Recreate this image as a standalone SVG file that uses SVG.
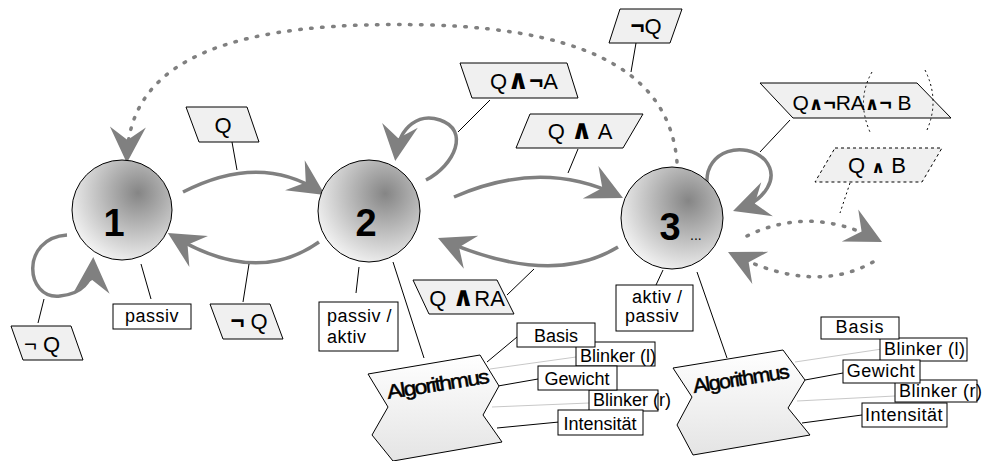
<svg xmlns="http://www.w3.org/2000/svg" width="984" height="461" viewBox="0 0 984 461">
<style>
text{font-family:"Liberation Sans",Arial,sans-serif;fill:#000}
.lbl{font-size:22px;text-anchor:middle}
.sm{font-size:18px}
.mid{text-anchor:middle}
.num{font-size:38px;font-weight:bold;text-anchor:middle}
.sym{font-family:"DejaVu Sans",sans-serif;font-weight:bold;font-size:27px}
.neg{font-weight:bold;font-size:24px}
.para{fill:#f0f0f0;stroke:#000;stroke-width:1}
.box{fill:#fff;stroke:#000;stroke-width:1}
.circ{fill:url(#ball);stroke:#000;stroke-width:1}
.alg{fill:url(#algf);stroke:#000;stroke-width:1}
.algt{font-size:20px;letter-spacing:-1.5px;stroke:#000;stroke-width:0.5}
.arr{fill:none;stroke:#808080;stroke-width:3.5;marker-end:url(#ah)}
.dot{fill:none;stroke:#808080;stroke-width:3.5;stroke-dasharray:1.5 9.5;stroke-linecap:round;marker-end:url(#ah)}
.ln{stroke:#000;stroke-width:1;fill:none}
.lg{stroke:#c8c8c8;stroke-width:1;fill:none}
.thd{stroke:#000;stroke-width:1;fill:none;stroke-dasharray:2 3}
</style>
<defs>
<radialGradient id="ball" cx="0.66" cy="0.33" r="0.8" fx="0.66" fy="0.33">
<stop offset="0" stop-color="#858585"/>
<stop offset="1" stop-color="#fdfdfd"/>
</radialGradient>
<linearGradient id="algf" x1="0" y1="0" x2="0" y2="1">
<stop offset="0" stop-color="#fff"/>
<stop offset="1" stop-color="#e4e4e4"/>
</linearGradient>
<marker id="ah" markerUnits="userSpaceOnUse" markerWidth="44" markerHeight="44" viewBox="-32 -22 44 44" refX="0" refY="0" orient="auto" overflow="visible">
<path d="M6,0 L-30,-18 L-17,0 L-30,18 Z" fill="#808080"/>
</marker>
</defs>

<g id="connectors">
<path class="arr" d="M183,192 Q260,152.5 320,191.7"/>
<path class="arr" d="M319,242 Q256.5,286.5 173,236"/>
<path class="arr" d="M454,197 Q541.5,158.5 617.6,195.4"/>
<path class="arr" d="M618,247 Q552,287.5 443.5,240.4"/>
<path class="arr" d="M67,235 C20,238 25,300 60,296 C80,294 92,285 93,263"/>
<path class="arr" d="M426,180 C455,165 470,130 440,120 C420,113 400,125 396,155"/>
<path class="arr" d="M707,183 C705,150 745,140 765,160 C780,178 765,200 738.7,209"/>
<path class="dot" d="M677,162 C670,80 600,30 430,25 C240,20 130,55 127,157"/>
<path class="dot" d="M747,236 Q810,205 876.7,239.3"/>
<path class="dot" d="M873,262 Q815,295 733.4,254.7"/>
<line class="ln" x1="232" y1="142" x2="237" y2="170"/>
<line class="ln" x1="636" y1="43" x2="631" y2="72"/>
<line class="ln" x1="490" y1="100" x2="458" y2="132"/>
<line class="ln" x1="578" y1="149" x2="568" y2="173"/>
<line class="ln" x1="790" y1="120" x2="760" y2="152"/>
<line class="thd" x1="850" y1="183" x2="840" y2="213"/>
<line class="ln" x1="38" y1="323" x2="44" y2="299"/>
<line class="ln" x1="151" y1="299" x2="141" y2="264"/>
<line class="ln" x1="243" y1="302" x2="249" y2="264"/>
<line class="ln" x1="356" y1="293" x2="359" y2="267"/>
<line class="ln" x1="393" y1="262" x2="424" y2="358"/>
<line class="ln" x1="507" y1="295" x2="534" y2="269"/>
<line class="ln" x1="656" y1="285" x2="663" y2="270"/>
<line class="ln" x1="697" y1="272" x2="727" y2="358"/>
<line class="ln" x1="487" y1="362" x2="517" y2="337"/>
<line class="lg" x1="490" y1="369" x2="576" y2="357"/>
<line class="ln" x1="498" y1="386" x2="538" y2="379"/>
<line class="lg" x1="492" y1="407" x2="589" y2="403"/>
<line class="ln" x1="497" y1="428" x2="559" y2="422"/>
<line class="lg" x1="795" y1="362" x2="882" y2="349"/>
<line class="ln" x1="805" y1="380" x2="843" y2="373"/>
<line class="lg" x1="797" y1="401" x2="895" y2="396"/>
<line class="ln" x1="802" y1="423" x2="862" y2="415"/>
</g>

<g id="state1">
<circle class="circ" cx="122" cy="210" r="50"/>
<text class="num" x="114" y="236">1</text>
</g>
<g id="state2">
<circle class="circ" cx="369" cy="211" r="51"/>
<text class="num" x="366" y="236">2</text>
</g>
<g id="state3">
<circle class="circ" cx="672" cy="218" r="51"/>
<text class="num" x="670" y="240">3</text>
<text x="690" y="240" style="font-size:14px">...</text>
</g>

<g id="lbl-q">
<polygon class="para" points="186,107 247,107 259,142 199,142"/>
<text class="lbl" x="223" y="133">Q</text>
</g>
<g id="lbl-notq-top">
<polygon class="para" points="620,9 682,9 670,43 609,43"/>
<text class="lbl" x="646" y="34"><tspan class="neg">¬</tspan>Q</text>
</g>
<g id="lbl-q-and-nota">
<polygon class="para" points="460,63 567,63 578,98 472,98"/>
<text class="lbl" x="524" y="89">Q<tspan class="sym">∧</tspan><tspan class="neg">¬</tspan>A</text>
</g>
<g id="lbl-q-and-a">
<polygon class="para" points="530,114 643,114 623,148 516,148"/>
<text class="lbl" x="580" y="139">Q <tspan class="sym">∧</tspan> A</text>
</g>
<g id="lbl-q-and-notra-and-notb">
<polygon class="para" points="760,83 917,83 951,118 793,118"/>
<text class="lbl" x="852" y="110" style="font-size:21px">Q<tspan class="sym" style="font-size:18px">∧</tspan><tspan class="neg" style="font-size:21px">¬</tspan>RA<tspan class="sym" style="font-size:18px">∧</tspan><tspan class="neg" style="font-size:21px">¬</tspan> B</text>
<path class="thd" d="M872,72 Q856,100 870,132"/>
<path class="thd" d="M925,70 Q940,100 927,130"/>
</g>
<g id="lbl-q-and-b">
<polygon class="para" points="835,148 942,148 922,182 815,182" style="stroke-dasharray:3 3"/>
<text class="lbl" x="877" y="173">Q  <tspan class="sym" style="font-size:17px">∧</tspan>  B</text>
</g>
<g id="lbl-notq-self">
<polygon class="para" points="11,326 71,326 83,360 23,360"/>
<text class="lbl" x="42" y="352">¬ Q</text>
</g>
<g id="lbl-passiv">
<rect class="box" x="113" y="304" width="78" height="25"/>
<text class="sm mid" x="152" y="322" style="letter-spacing:0.5px">passiv</text>
</g>
<g id="lbl-notq-mid">
<polygon class="para" points="210,304 270,304 283,339 223,339"/>
<text class="lbl" x="249" y="329"><tspan class="neg">¬</tspan> Q</text>
</g>
<g id="lbl-passiv-aktiv">
<rect class="box" x="319" y="302" width="79" height="49"/>
<text class="sm" x="327" y="322" style="letter-spacing:0.5px">passiv /</text>
<text class="sm" x="327" y="343" style="letter-spacing:0.5px">aktiv</text>
</g>
<g id="lbl-q-and-ra">
<polygon class="para" points="413,280 497,280 514,314 429,314"/>
<text class="lbl" x="467" y="306">Q <tspan class="sym">∧</tspan>RA</text>
</g>
<g id="lbl-aktiv-passiv">
<rect class="box" x="616" y="285" width="77" height="46"/>
<text class="sm" x="632" y="303" style="letter-spacing:0.5px">aktiv /</text>
<text class="sm" x="625" y="322" style="letter-spacing:0.5px">passiv</text>
</g>

<g id="algorithmus1">
<polygon class="alg" points="368,374 480,355 499,386 483,415 502,442 393,461 372,435 388,407"/>
<text class="algt" transform="translate(388,399) rotate(-9)" x="0" y="0" textLength="102" lengthAdjust="spacingAndGlyphs">Algorithmus</text>
</g>
<g id="params1">
<rect class="box" x="576" y="342" width="79" height="24"/>
<text class="sm" x="580" y="362">Blinker (l)</text>
<rect class="box" x="589" y="390" width="69" height="21"/>
<text class="sm" x="593" y="406">Blinker (r)</text>
<rect class="box" x="517" y="323" width="78" height="24"/>
<text class="sm mid" x="556" y="342">Basis</text>
<rect class="box" x="538" y="366" width="79" height="24"/>
<text class="sm mid" x="577" y="385">Gewicht</text>
<rect class="box" x="558" y="410" width="85" height="25"/>
<text class="sm mid" x="600" y="430">Intensität</text>
</g>

<g id="algorithmus2">
<polygon class="alg" points="673,368 783,350 805,380 788,408 810,435 693,455 677,425 692,397"/>
<text class="algt" transform="translate(694,393) rotate(-9)" x="0" y="0" textLength="96" lengthAdjust="spacingAndGlyphs">Algorithmus</text>
</g>
<g id="params2">
<rect class="box" x="880" y="338" width="87" height="23"/>
<text class="sm" x="884" y="355" style="letter-spacing:0.5px">Blinker (l)</text>
<rect class="box" x="895" y="380" width="82" height="22"/>
<text class="sm" x="899" y="397" style="letter-spacing:0.5px">Blinker (r)</text>
<rect class="box" x="821" y="317" width="78" height="22"/>
<text class="sm mid" x="860" y="333" style="letter-spacing:1px">Basis</text>
<rect class="box" x="843" y="360" width="77" height="23"/>
<text class="sm mid" x="881" y="377" style="letter-spacing:0.5px">Gewicht</text>
<rect class="box" x="862" y="403" width="85" height="24"/>
<text class="sm mid" x="904" y="421" style="letter-spacing:0.5px">Intensität</text>
</g>
</svg>
